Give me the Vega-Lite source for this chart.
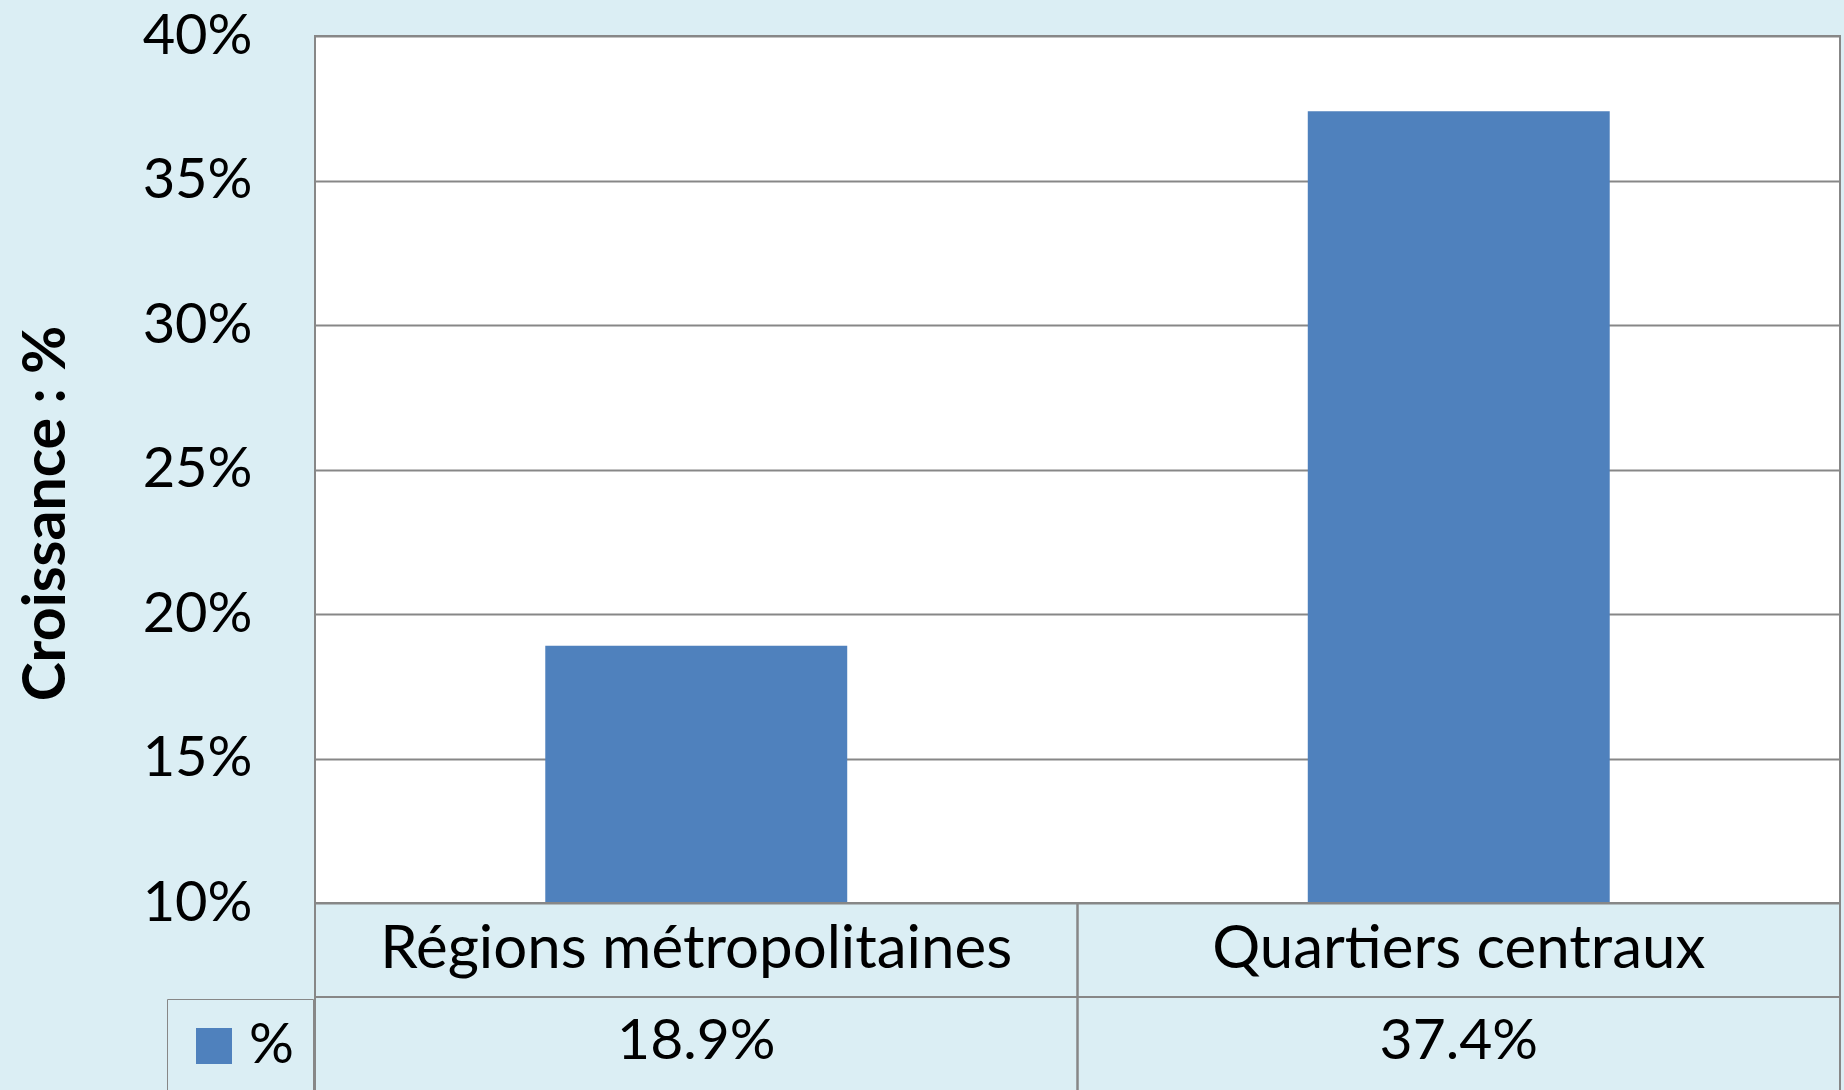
{
  "$schema": "https://vega.github.io/schema/vega-lite/v6.json",
  "background": "#DBEEF4",
  "padding": {"left": 16, "top": 7, "right": 6, "bottom": 0},
  "spacing": 0,
  "bounds": "flush",
  "config": {
    "font": "Lato",
    "view": {"stroke": null}
  },
  "data": {
    "values": [
      {"categorie": "Régions métropolitaines", "croissance": 0.189, "serie": "%"},
      {"categorie": "Quartiers centraux", "croissance": 0.374, "serie": "%"}
    ]
  },
  "resolve": {"scale": {"x": "independent", "y": "independent"}, "legend": {"color": "independent"}},
  "vconcat": [
    {
      "width": 1525,
      "height": 867,
      "view": {"fill": "white", "stroke": "#878787", "strokeWidth": 2},
      "mark": {"type": "bar"},
      "encoding": {
        "x": {
          "field": "categorie", "type": "nominal", "sort": null,
          "scale": {"paddingInner": 0.604, "paddingOuter": 0.302},
          "axis": null
        },
        "y": {
          "field": "croissance", "type": "quantitative",
          "scale": {"domain": [0.1, 0.4], "zero": false, "nice": false},
          "axis": {
            "values": [0.1, 0.15, 0.2, 0.25, 0.3, 0.35, 0.4],
            "format": ".0%",
            "labelFont": "Lato",
            "labelFontSize": 56,
            "labelColor": "black",
            "labelPadding": 63,
            "ticks": false,
            "domain": false,
            "grid": true,
            "gridColor": "#878787",
            "gridWidth": 2,
            "title": "Croissance : %",
            "titleFont": "Lato",
            "titleFontSize": 59,
            "titleFontWeight": "bold",
            "titleColor": "black",
            "titleAngle": 270,
            "titleX": -269,
            "titleY": 477,
            "titleAlign": "center",
            "titleBaseline": "middle"
          }
        },
        "y2": {"datum": 0.1},
        "color": {
          "field": "serie", "type": "nominal",
          "scale": {"range": ["#4F81BD"]},
          "legend": {
            "orient": "none",
            "legendX": -148,
            "legendY": 963,
            "title": null,
            "symbolType": "square",
            "symbolSize": 1296,
            "symbolStrokeWidth": 0,
            "labelFont": "Lato",
            "labelFontSize": 56,
            "labelColor": "black",
            "labelOffset": 7,
            "padding": 19,
            "strokeColor": "#878787"
          }
        }
      }
    },
    {
      "width": 1525,
      "height": 188,
      "encoding": {
        "x": {
          "field": "categorie", "type": "nominal", "sort": null,
          "scale": {"paddingInner": 0, "paddingOuter": 0},
          "axis": null
        }
      },
      "layer": [
        {
          "mark": {"type": "rect", "fill": "transparent", "stroke": "#878787", "strokeWidth": 2},
          "encoding": {
            "y": {"datum": 0, "type": "quantitative", "scale": {"domain": [0, 1.958], "reverse": true}, "axis": null},
            "y2": {"datum": 2}
          }
        },
        {
          "mark": {"type": "rule", "stroke": "#878787", "strokeWidth": 2},
          "encoding": {
            "x": null,
            "y": {"datum": 1, "type": "quantitative"}
          }
        },
        {
          "mark": {"type": "text", "fontSize": 60, "font": "Lato", "color": "black", "baseline": "middle"},
          "encoding": {
            "y": {"datum": 0.5, "type": "quantitative"},
            "text": {"field": "categorie"}
          }
        },
        {
          "mark": {"type": "text", "fontSize": 57, "font": "Lato", "color": "black", "baseline": "middle"},
          "encoding": {
            "y": {"datum": 1.479, "type": "quantitative"},
            "text": {"field": "croissance", "format": ".1%"}
          }
        }
      ]
    }
  ]
}
